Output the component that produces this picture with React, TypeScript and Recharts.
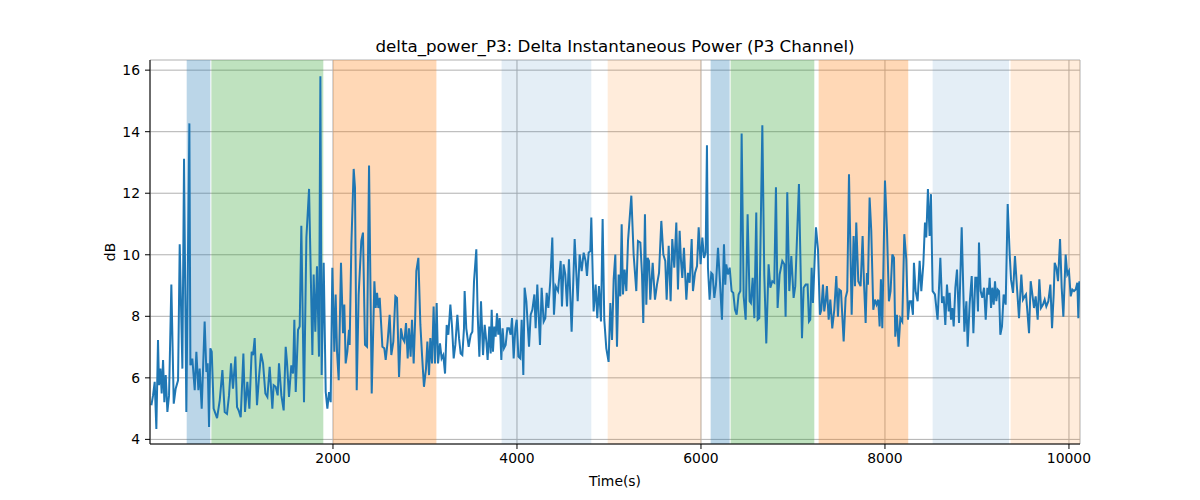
import React from 'react';
import { ComposedChart, Line, XAxis, YAxis, CartesianGrid, ReferenceArea } from 'recharts';

const times = [
  26, 44, 62, 80, 98, 109, 124, 138, 153, 167, 182, 200, 218, 243, 269, 290, 316, 334, 363, 381,
  406, 439, 450, 471, 497, 515, 537, 551, 573, 605, 624, 638, 653, 667, 682, 703, 740, 769, 798, 823,
  848, 870, 892, 913, 939, 957, 975, 997, 1026, 1044, 1069, 1091, 1116, 1131, 1149, 1174, 1196, 1218, 1240, 1265,
  1287, 1312, 1341, 1355, 1377, 1399, 1413, 1439, 1464, 1486, 1500, 1522, 1547, 1566, 1580, 1595, 1620, 1638, 1656, 1685,
  1711, 1740, 1776, 1790, 1808, 1826, 1848, 1863, 1877, 1899, 1921, 1939, 1957, 1975, 1993, 2015, 2029, 2044, 2062, 2087,
  2109, 2123, 2138, 2156, 2174, 2181, 2200, 2225, 2239, 2258, 2279, 2308, 2326, 2348, 2370, 2392, 2421, 2450, 2464, 2479,
  2493, 2508, 2522, 2537, 2558, 2573, 2594, 2616, 2634, 2656, 2678, 2696, 2718, 2739, 2757, 2776, 2794, 2812, 2826, 2844,
  2859, 2877, 2892, 2906, 2928, 2950, 2968, 2989, 3011, 3026, 3044, 3058, 3076, 3094, 3109, 3127, 3142, 3163, 3181, 3199,
  3218, 3236, 3254, 3276, 3294, 3312, 3330, 3352, 3370, 3388, 3406, 3424, 3431, 3449, 3475, 3497, 3515, 3533, 3558, 3573,
  3591, 3609, 3631, 3649, 3667, 3681, 3699, 3714, 3725, 3739, 3754, 3768, 3783, 3797, 3812, 3830, 3844, 3859, 3877, 3895,
  3913, 3931, 3946, 3964, 3982, 3997, 4015, 4036, 4051, 4069, 4083, 4102, 4131, 4149, 4167, 4189, 4203, 4221, 4239, 4250,
  4268, 4290, 4308, 4323, 4341, 4362, 4384, 4402, 4420, 4446, 4475, 4489, 4507, 4525, 4544, 4565, 4594, 4627, 4660, 4681,
  4703, 4725, 4746, 4761, 4779, 4797, 4808, 4833, 4855, 4873, 4891, 4913, 4931, 4949, 4971, 4996, 5015, 5033, 5051, 5069,
  5087, 5105, 5123, 5138, 5152, 5170, 5189, 5207, 5243, 5268, 5297, 5315, 5341, 5359, 5373, 5391, 5406, 5420, 5435, 5449,
  5475, 5500, 5522, 5544, 5569, 5591, 5612, 5627, 5649, 5670, 5688, 5710, 5732, 5750, 5768, 5783, 5797, 5815, 5841, 5859,
  5877, 5899, 5913, 5935, 5957, 5975, 5996, 6015, 6033, 6051, 6065, 6076, 6094, 6112, 6127, 6145, 6163, 6185, 6207, 6228,
  6250, 6264, 6275, 6293, 6312, 6333, 6351, 6370, 6388, 6409, 6428, 6442, 6464, 6486, 6507, 6529, 6543, 6562, 6580, 6601,
  6616, 6634, 6667, 6688, 6710, 6735, 6754, 6775, 6797, 6815, 6833, 6855, 6884, 6906, 6920, 6938, 6960, 6982, 7007, 7025,
  7065, 7098, 7116, 7138, 7159, 7174, 7188, 7203, 7217, 7250, 7272, 7293, 7308, 7326, 7340, 7355, 7369, 7388, 7406, 7427,
  7449, 7471, 7489, 7503, 7522, 7551, 7572, 7590, 7609, 7638, 7659, 7674, 7688, 7710, 7735, 7757, 7772, 7790, 7804, 7815,
  7833, 7851, 7873, 7891, 7909, 7927, 7942, 7956, 7971, 8000, 8022, 8043, 8061, 8080, 8098, 8112, 8130, 8148, 8167, 8188,
  8210, 8232, 8250, 8268, 8286, 8304, 8315, 8333, 8355, 8377, 8395, 8417, 8435, 8449, 8467, 8485, 8500, 8518, 8543, 8572,
  8602, 8620, 8638, 8656, 8674, 8693, 8703, 8718, 8732, 8747, 8765, 8783, 8805, 8834, 8863, 8885, 8899, 8921, 8943, 8961,
  8982, 8997, 9011, 9022, 9040, 9058, 9077, 9095, 9113, 9127, 9138, 9153, 9167, 9182, 9196, 9211, 9225, 9240, 9254, 9272,
  9290, 9312, 9334, 9356, 9370, 9392, 9413, 9435, 9457, 9482, 9500, 9519, 9533, 9548, 9566, 9584, 9602, 9620, 9638, 9660,
  9678, 9696, 9718, 9736, 9754, 9776, 9798, 9816, 9834, 9845, 9863, 9881, 9903, 9921, 9939, 9964, 9982, 10000, 10019, 10037,
  10055, 10073, 10091, 10102, 10113,
];

const values = [
  5.11, 5.43, 5.87, 4.34, 7.23, 5.76, 6.3, 5.49, 6.58, 5.21, 6.09, 4.89, 5.43, 9.03, 5.16, 5.65, 5.92, 10.34, 6.3, 13.12,
  4.89, 14.27, 6.41, 6.63, 5.6, 6.85, 5.6, 6.3, 5.0, 7.83, 6.19, 6.47, 4.4, 6.96, 6.85, 5.0, 4.69, 5.27, 6.25, 4.89,
  4.83, 5.43, 6.47, 5.65, 6.69, 5.05, 4.94, 4.72, 6.79, 4.89, 5.87, 5.0, 6.85, 6.74, 7.29, 5.11, 6.03, 6.79, 6.47, 5.49,
  5.38, 6.36, 5.0, 5.76, 5.71, 5.43, 6.47, 5.43, 4.94, 7.01, 6.52, 5.38, 6.41, 6.14, 7.89, 5.54, 7.56, 7.67, 10.94, 5.21,
  10.56, 12.14, 6.74, 9.36, 7.5, 9.63, 6.69, 15.8, 6.09, 9.74, 5.54, 5.0, 5.54, 5.21, 9.58, 6.85, 8.71, 6.85, 5.92, 9.74,
  7.45, 8.38, 6.47, 6.85, 7.56, 7.07, 10.34, 12.79, 12.19, 5.6, 8.71, 10.45, 10.72, 7.07, 7.01, 12.9, 5.49, 9.14, 8.27, 8.76,
  8.27, 8.6, 7.83, 7.01, 6.96, 6.58, 7.18, 8.05, 6.74, 7.18, 8.65, 8.6, 6.03, 7.61, 7.29, 7.18, 7.78, 6.63, 7.61, 6.69,
  7.89, 6.47, 7.78, 9.47, 9.9, 7.72, 6.74, 5.71, 6.3, 7.18, 6.09, 7.29, 6.47, 8.32, 6.47, 8.43, 6.47, 7.12, 6.63, 6.74,
  6.14, 7.72, 7.4, 8.38, 7.67, 6.63, 7.07, 8.05, 7.29, 6.79, 6.74, 7.61, 8.82, 7.61, 7.01, 7.4, 7.5, 9.14, 10.18, 8.05,
  6.69, 8.49, 6.74, 7.72, 7.18, 6.58, 7.67, 6.79, 8.21, 6.85, 7.67, 7.34, 8.1, 7.4, 7.94, 6.58, 7.61, 6.96, 7.07, 7.61,
  7.61, 7.4, 7.94, 6.63, 7.61, 7.89, 6.69, 6.63, 7.89, 6.09, 8.93, 8.49, 7.01, 8.05, 8.21, 8.71, 7.61, 9.03, 7.83, 7.07,
  8.93, 7.83, 7.94, 8.76, 8.27, 9.14, 10.56, 8.05, 8.98, 8.82, 9.8, 8.32, 9.69, 9.36, 8.32, 9.85, 7.5, 10.51, 8.49, 10.01,
  9.47, 10.07, 9.8, 9.31, 10.07, 10.12, 11.21, 8.16, 9.03, 7.94, 8.98, 7.83, 11.16, 7.89, 6.96, 6.52, 8.43, 7.23, 9.2, 10.01,
  7.01, 9.36, 8.65, 10.99, 8.71, 9.52, 8.82, 10.45, 11.92, 10.01, 8.82, 10.45, 10.4, 9.36, 7.78, 11.32, 8.38, 9.9, 9.8, 8.54,
  9.74, 8.54, 9.03, 9.41, 11.1, 10.01, 9.8, 8.54, 10.29, 8.49, 10.51, 9.58, 11.05, 8.87, 10.78, 9.8, 9.25, 10.23, 8.54, 9.41,
  9.09, 10.51, 8.82, 9.41, 9.63, 10.89, 9.69, 10.56, 9.9, 10.07, 13.56, 9.58, 8.54, 9.41, 9.36, 8.6, 9.03, 10.23, 9.09, 7.89,
  10.34, 9.03, 9.69, 9.36, 9.58, 8.82, 8.76, 8.21, 8.05, 8.71, 8.82, 13.94, 8.65, 7.89, 11.32, 8.49, 8.43, 9.25, 7.94, 11.37,
  7.89, 7.94, 14.21, 9.36, 7.12, 9.69, 8.93, 9.14, 9.09, 12.19, 8.27, 9.36, 9.8, 9.69, 7.99, 12.03, 8.82, 9.96, 8.6, 8.98,
  12.3, 7.29, 8.93, 9.03, 9.03, 7.83, 7.89, 9.58, 8.43, 10.89, 10.18, 8.05, 8.21, 9.03, 8.16, 8.49, 8.98, 7.89, 8.54, 7.61,
  8.21, 9.31, 7.99, 8.87, 8.82, 7.18, 8.6, 8.82, 12.62, 8.05, 10.61, 8.98, 11.05, 9.14, 8.98, 10.61, 9.09, 7.78, 9.41, 9.03,
  11.86, 10.78, 8.21, 8.54, 8.38, 8.54, 7.67, 9.2, 7.61, 12.41, 10.78, 8.49, 8.82, 10.01, 9.9, 7.34, 8.05, 7.01, 7.94, 7.83,
  10.67, 9.85, 7.89, 8.49, 8.49, 8.05, 9.74, 8.82, 8.49, 9.8, 8.82, 9.69, 11.05, 10.56, 12.14, 10.61, 11.97, 8.82, 8.71, 7.89,
  9.9, 8.43, 8.65, 7.72, 9.03, 8.16, 8.76, 7.89, 8.27, 7.67, 8.93, 9.52, 7.78, 10.89, 7.5, 8.49, 7.01, 8.43, 9.31, 7.45,
  9.25, 9.25, 8.16, 10.4, 8.82, 8.6, 8.93, 7.89, 8.93, 8.71, 9.25, 8.27, 8.93, 8.38, 9.14, 8.49, 8.87, 8.82, 7.4, 7.67,
  8.71, 8.38, 11.65, 10.01, 9.2, 8.76, 9.96, 8.93, 7.94, 9.36, 8.54, 8.65, 8.71, 8.16, 7.45, 9.14, 8.71, 8.27, 8.65, 7.89,
  9.2, 8.27, 8.38, 8.54, 8.32, 8.49, 9.03, 7.61, 8.71, 9.74, 9.58, 9.14, 10.51, 8.93, 7.99, 10.01, 9.36, 9.47, 8.65, 8.87,
  8.82, 8.87, 9.09, 7.94, 9.14,
];

const regionStarts = [410, 678, 2000, 3833, 4986, 6105, 6322, 7279, 8518, 9366];
const regionEnds = [667, 1895, 3124, 4808, 6004, 6312, 7232, 8253, 9348, 10120];
const regionColors = ['#1f77b4', '#2ca02c', '#ff7f0e', '#1f77b4', '#ff7f0e', '#1f77b4', '#2ca02c', '#ff7f0e', '#1f77b4', '#ff7f0e'];
const regionOpacity = [0.3, 0.3, 0.3, 0.12, 0.15, 0.3, 0.3, 0.3, 0.12, 0.15];

const xTicks = [2000, 4000, 6000, 8000, 10000];
const yTicks = [4, 6, 8, 10, 12, 14, 16];
const xDomain = [11, 10120];
const yDomain = [3.85, 16.33];

const titleText = 'delta_power_P3: Delta Instantaneous Power (P3 Channel)';
const xLabel = 'Time(s)';
const yLabel = 'dB';

const data = times.map((t, i) => ({ t, v: values[i] }));

const FONT = 'DejaVu Sans, sans-serif';

export default function App() {
  return (
    <div style={{ position: 'absolute', left: 0, top: 0, width: 1200, height: 500, background: '#fff' }}>
      <ComposedChart
        width={1200}
        height={500}
        data={data}
        margin={{ top: 60, right: 120, bottom: 26, left: 100 }}
        style={{ fontFamily: FONT }}
      >
        <CartesianGrid stroke="#b0b0b0" strokeWidth={1} horizontal vertical />
        <XAxis
          dataKey="t"
          type="number"
          domain={xDomain}
          ticks={xTicks}
          allowDataOverflow
          height={30}
          tickSize={5}
          tickMargin={4}
          axisLine={{ stroke: '#000', strokeWidth: 1 }}
          tickLine={{ stroke: '#000', strokeWidth: 1 }}
          tick={{ fill: '#000', fontSize: 13.9, fontFamily: FONT }}
        />
        <XAxis
          xAxisId="top"
          orientation="top"
          type="number"
          domain={xDomain}
          allowDataOverflow
          height={0}
          tick={false}
          tickLine={false}
          axisLine={{ stroke: '#000', strokeWidth: 1 }}
        />
        <YAxis
          type="number"
          domain={yDomain}
          ticks={yTicks}
          allowDataOverflow
          width={50}
          tickSize={5}
          tickMargin={5}
          axisLine={{ stroke: '#000', strokeWidth: 1 }}
          tickLine={{ stroke: '#000', strokeWidth: 1 }}
          tick={{ fill: '#000', fontSize: 13.9, fontFamily: FONT }}
        />
        <YAxis
          yAxisId="right"
          orientation="right"
          type="number"
          domain={yDomain}
          allowDataOverflow
          width={0}
          tick={false}
          tickLine={false}
          axisLine={{ stroke: '#000', strokeWidth: 1 }}
        />
        {regionStarts.map((s, i) => (
          <ReferenceArea
            key={i}
            x1={s}
            x2={regionEnds[i]}
            y1={yDomain[0]}
            y2={yDomain[1]}
            fill={regionColors[i]}
            fillOpacity={regionOpacity[i]}
            stroke="none"
            ifOverflow="hidden"
          />
        ))}
        <Line
          type="linear"
          dataKey="v"
          stroke="#1f77b4"
          strokeWidth={2}
          dot={false}
          activeDot={false}
          isAnimationActive={false}
        />
      </ComposedChart>
      <svg
        width={1200}
        height={500}
        style={{ position: 'absolute', left: 0, top: 0, pointerEvents: 'none' }}
      >
        <text x={615} y={52} textAnchor="middle" fontSize={16.7} fontFamily={FONT} fill="#000">
          {titleText}
        </text>
        <text x={615} y={486} textAnchor="middle" fontSize={13.9} fontFamily={FONT} fill="#000">
          {xLabel}
        </text>
        <text
          x={115}
          y={252}
          textAnchor="middle"
          fontSize={13.9}
          fontFamily={FONT}
          fill="#000"
          transform="rotate(-90 115 252)"
        >
          {yLabel}
        </text>
      </svg>
    </div>
  );
}
